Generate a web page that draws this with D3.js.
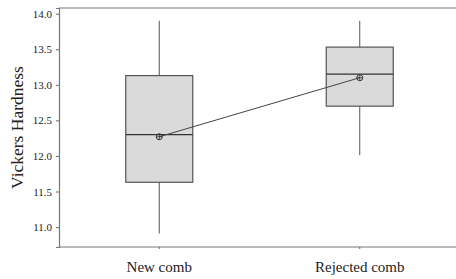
<!DOCTYPE html>
<html>
<head>
<meta charset="utf-8">
<script src="https://cdn.jsdelivr.net/npm/d3@7"></script>
<style>
  body { margin: 0; background: #fff; }
  text { font-family: "Liberation Serif", "Times New Roman", serif; fill: #222; }
</style>
</head>
<body>
<svg id="chart" width="456" height="279"></svg>
<script>
// Values
const categories = ["New comb", "Rejected comb"];
const whiskerLow = [10.91, 12.01];
const q1 = [11.63, 12.70];
const medians = [12.30, 13.15];
const q3 = [13.13, 13.53];
const whiskerHigh = [13.90, 13.90];
const means = [12.27, 13.10];
const yTicks = [11.0, 11.5, 12.0, 12.5, 13.0, 13.5, 14.0];

const width = 456, height = 279;
const margin = { top: 8, right: -4, bottom: 32, left: 59 };
const serif = '"Liberation Serif", "Times New Roman", serif';

const boxes = categories.map((c, i) => ({
  name: c, lo: whiskerLow[i], q1: q1[i], med: medians[i], q3: q3[i], hi: whiskerHigh[i], mean: means[i],
}));

const svg = d3.select("#chart");

const x = d3.scaleBand().domain(categories).range([margin.left, width - margin.right]);
const y = d3.scaleLinear().domain([10.72, 14.08]).range([height - margin.bottom, margin.top]);

const grey = "#555";
const boxW = 67;

// frame: left + top + bottom lines
svg.append("line").attr("x1", margin.left).attr("x2", width).attr("y1", y(14.08)).attr("y2", y(14.08))
  .attr("stroke", "#777").attr("stroke-width", 1.2);
svg.append("line").attr("x1", margin.left).attr("x2", width).attr("y1", y(10.72)).attr("y2", y(10.72))
  .attr("stroke", "#777").attr("stroke-width", 1.2);

// y axis
const yAxis = svg.append("g")
  .attr("transform", `translate(${margin.left},0)`)
  .call(d3.axisLeft(y).tickValues(yTicks).tickFormat(d3.format(".1f")).tickSize(3).tickPadding(4))
  .attr("font-family", serif);
yAxis.select(".domain").attr("stroke", "#777").attr("stroke-width", 1.2);
yAxis.selectAll(".tick line").attr("stroke", "#666");
yAxis.selectAll("text").style("font-size", "11px").style("font-family", serif).attr("fill", "#333");

// x axis labels
const xAxis = svg.append("g")
  .attr("transform", `translate(0,${y(10.72)})`)
  .call(d3.axisBottom(x).tickSize(2).tickPadding(12))
  .attr("font-family", serif);
xAxis.select(".domain").remove();
xAxis.selectAll(".tick line").attr("stroke", "#666");
xAxis.selectAll("text").style("font-size", "15px").style("font-family", serif).attr("fill", "#222");

// y label
svg.append("text")
  .attr("transform", `translate(23,${(y(14.08) + y(10.72)) / 2}) rotate(-90)`)
  .attr("text-anchor", "middle")
  .style("font-size", "17.5px")
  .text("Vickers Hardness");

// boxes
const g = svg.selectAll(".box").data(boxes).join("g").attr("class", "box");
const cx = (d) => x(d.name) + x.bandwidth() / 2;

g.append("line")
  .attr("x1", cx).attr("x2", cx)
  .attr("y1", (d) => y(d.hi)).attr("y2", (d) => y(d.lo))
  .attr("stroke", grey).attr("stroke-width", 1);

g.append("rect")
  .attr("x", (d) => cx(d) - boxW / 2)
  .attr("width", boxW)
  .attr("y", (d) => y(d.q3))
  .attr("height", (d) => y(d.q1) - y(d.q3))
  .attr("fill", "#dadada")
  .attr("stroke", grey).attr("stroke-width", 1.2);

g.append("line")
  .attr("x1", (d) => cx(d) - boxW / 2).attr("x2", (d) => cx(d) + boxW / 2)
  .attr("y1", (d) => y(d.med)).attr("y2", (d) => y(d.med))
  .attr("stroke", "#333").attr("stroke-width", 1.2);

// mean connecting line
svg.append("path")
  .datum(boxes)
  .attr("d", d3.line().x(cx).y((d) => y(d.mean)))
  .attr("fill", "none").attr("stroke", "#444").attr("stroke-width", 1);

// mean markers (circle with cross)
const m = svg.selectAll(".mean").data(boxes).join("g").attr("class", "mean")
  .attr("transform", (d) => `translate(${cx(d)},${y(d.mean)})`);
m.append("circle").attr("r", 3).attr("fill", "none").attr("stroke", "#333").attr("stroke-width", 1);
m.append("path").attr("d", "M-3,0H3M0,-3V3").attr("stroke", "#333").attr("stroke-width", 0.8);
</script>
</body>
</html>
